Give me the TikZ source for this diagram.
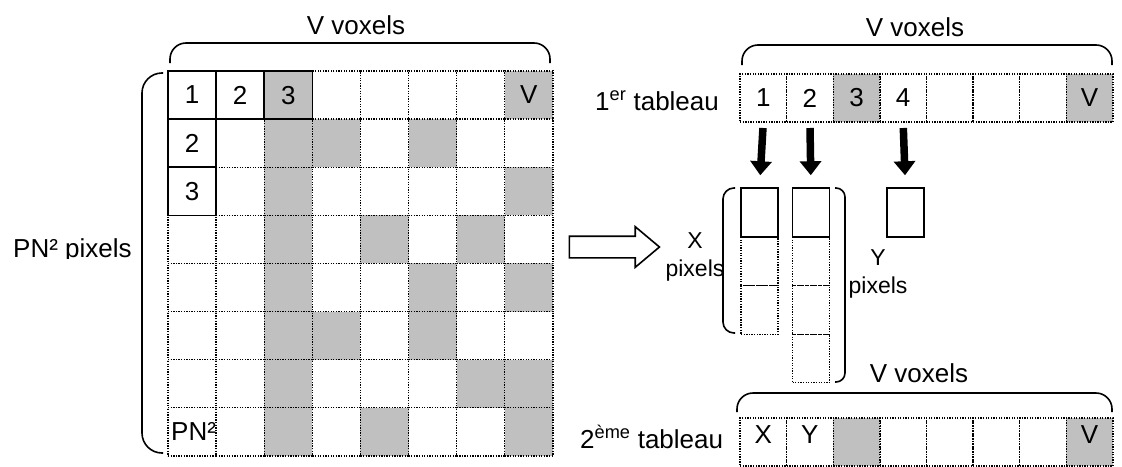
\documentclass[tikz,border=0pt]{standalone}
\usepackage{fontspec}
\setmainfont{Liberation Sans}
\usetikzlibrary{arrows.meta,shapes.arrows}
\definecolor{cellgray}{RGB}{192,192,192}

\begin{document}
\begin{tikzpicture}[
    x=1pt, y=-1pt,
    font=\fontsize{26}{30}\selectfont,
    cell/.style={rectangle, draw, dash pattern=on 1.3pt off 1.3pt, line width=1.4pt, minimum width=48.1pt, minimum height=48.1pt, inner sep=0pt, outer sep=0pt, font=\fontsize{26}{30}\selectfont},
    solidcell/.style={cell, solid, line width=1.6pt},
    rowcell/.style={cell, minimum width=46.6pt, minimum height=48pt},
    smallcell/.style={cell, minimum width=37pt, minimum height=48.5pt},
    brace/.style={draw, line width=1.6pt, rounded corners=16pt},
    bigdown/.style={draw, line width=7.5pt, -{Triangle[width=21pt,length=14pt]}, shorten <=6pt, shorten >=13pt},
    pixtext/.style={align=center, inner sep=0pt, font=\fontsize{23}{28}\selectfont},
    hollow/.style={single arrow, draw, line width=1.6pt, minimum height=90pt, minimum width=39pt, single arrow head extend=9.5pt, single arrow tip angle=80, single arrow head indent=0pt, inner xsep=0pt, inner ysep=10pt}
]
    \useasboundingbox (0,0) rectangle (1122,466);

    % Grid of PN^2 pixels x V voxels
    \foreach \r in {0,...,7}{
        \foreach \c in {0,...,7}{
            \node [cell] (g\r\c) at ({192.05+48.1*\c}, {95.05+48.1*\r}) {};
        }
    }
    \foreach \r/\c in {0/7, 1/2,1/3,1/5, 2/2,2/7, 3/2,3/4,3/6, 4/2,4/5,4/7, 5/2,5/3,5/5, 6/2,6/6,6/7, 7/2,7/4,7/7}{
        \node [cell, fill=cellgray] at (g\r\c) {};
    }
    \node [cell, draw=none] at (g07) {V};
    \node [solidcell] at (g00) {1};
    \node [solidcell] at (g01) {2};
    \node [solidcell, fill=cellgray] at (g02) {3};
    \node [solidcell] at (g10) {2};
    \node [solidcell] at (g20) {3};
    \node [anchor=west, inner sep=0pt] (pnlast) at ([xshift=3pt]g70.west) {PN²};

    % Braces and labels of the grid
    \draw [brace] (170,63) -- (170,43) -- (550,43) -- (550,63);
    \node (voxtop) at (356,25) {V voxels};
    \draw [brace, rounded corners=20pt] (163,73) -- (142,73) -- (142,453) -- (163,453);
    \begin{scope}
        \clip (0,200) rectangle (140,258);
        \node [anchor=base west, inner sep=0pt] (pnpix) at (13,257) {PN² pixels};
    \end{scope}

    % Transfer arrow
    \node [hollow] (bigarrow) at (608,247) {};

    % First array
    \foreach \i/\txt in {1/1,2/2,3/3,4/4,5/,6/,7/,8/V}{
        \node [rowcell] (t\i) at ({716.7+46.6*\i}, 98) {\txt};
    }
    \node [rowcell, fill=cellgray] at (t3) {3};
    \node [rowcell, fill=cellgray] at (t8) {V};
    \node [anchor=base west, inner sep=0pt] (tab1) at (595,110) {1\textsuperscript{er} tableau};
    \draw [brace] (742,65) -- (742,45) -- (1112,45) -- (1112,65);
    \node (voxright) at (915,27) {V voxels};

    % Pixel columns
    \node [smallcell, solid, line width=1.6pt] (a1) at (759.5,212.5) {};
    \node [smallcell] (a2) at (759.5,261.5) {};
    \node [smallcell] (a3) at (759.5,310) {};
    \node [smallcell, solid, line width=1.6pt] (b1) at (811,212.5) {};
    \node [smallcell] (b2) at (811,261.5) {};
    \node [smallcell] (b3) at (811,310) {};
    \node [smallcell] (b4) at (811,358.5) {};
    \node [smallcell, solid, line width=1.6pt] (c1) at (905.5,212.5) {};

    \draw [brace, rounded corners=11pt] (735,188) -- (723,188) -- (723,333) -- (735,333);
    \draw [brace, rounded corners=9pt] (835,188) -- (845,188) -- (845,382) -- (835,382);
    \node [pixtext] (xpix) at (695,257) {X\\pixels};
    \node [pixtext] (ypix) at (878,274) {Y\\pixels};

    % Down arrows
    \draw [bigdown] (t1.south) -- (a1.north);
    \draw [bigdown] (t2.south) -- (b1.north);
    \draw [bigdown] (t4.south) -- (c1.north);

    % Second array
    \foreach \i in {1,...,8}{
        \node [rowcell] (s\i) at ({716.7+46.6*\i}, 442) {};
    }
    \node [rowcell, fill=cellgray] at (s3) {};
    \node [rowcell, fill=cellgray] at (s8) {};
    \foreach \i/\txt in {1/X,2/Y,8/V}{
        \node at ([yshift=7pt]s\i) {\txt};
    }
    \node [anchor=base west, inner sep=0pt] (tab2) at (580,448) {2\textsuperscript{ème} tableau};
    \draw [brace] (737,412) -- (737,393) -- (1112,393) -- (1112,412);
    \node (voxbottom) at (919,373) {V voxels};
\end{tikzpicture}
\end{document}
